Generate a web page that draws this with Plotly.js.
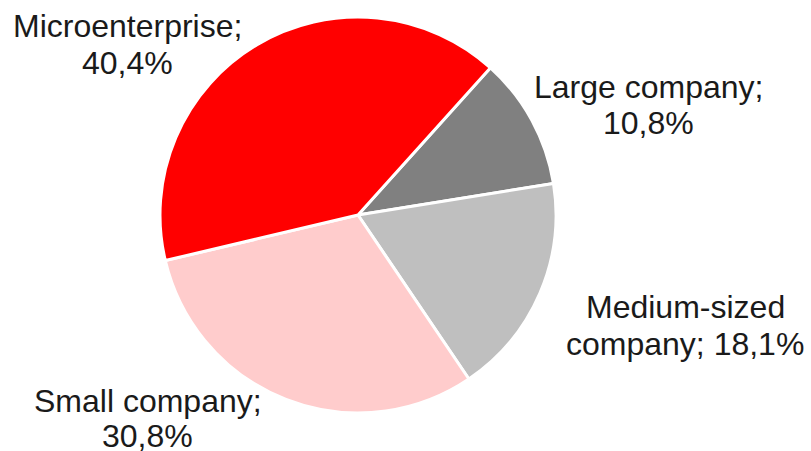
<!DOCTYPE html>
<html>
<head>
<meta charset="utf-8">
<script src="https://cdn.plot.ly/plotly-3.0.1.min.js"></script>
<style>html,body{margin:0;padding:0;background:#fff;}#chart{width:811px;height:451px;}</style>
</head>
<body>
<div id="chart"></div>
<script>
// Data
var categories = ["Large company", "Medium-sized company", "Small company", "Microenterprise"];
var values = [10.8, 18.1, 30.8, 40.4];
var valueLabels = ["10,8%", "18,1%", "30,8%", "40,4%"];
var colors = ["#808080", "#BFBFBF", "#FFCCCC", "#FF0000"];
// Label line splits (as in the reference)
var labelLine1 = ["Large company;", "Medium-sized", "Small company;", "Microenterprise;"];
var labelLine2 = ["10,8%", "company; 18,1%", "30,8%", "40,4%"];

var W = 811, H = 451;
// label centre positions in pixels (line1 y, line2 y)
var labelPos = [
  {x: 648, y1: 86, y2: 122},
  {x: 685, y1: 306, y2: 343},
  {x: 147.5, y1: 399.5, y2: 435},
  {x: 127, y1: 25, y2: 62}
];

var annotations = [];
for (var i = 0; i < categories.length; i++) {
  var p = labelPos[i];
  [[labelLine1[i], p.y1], [labelLine2[i], p.y2]].forEach(function (ln) {
    annotations.push({
      text: ln[0], xref: 'paper', yref: 'paper',
      x: p.x / W, y: 1 - (ln[1] + 1) / H,
      xanchor: 'center', yanchor: 'middle', showarrow: false,
      font: {family: 'Liberation Sans, Arial, sans-serif', size: 32, color: '#1a1a1a'}
    });
  });
}

var trace = {
  type: 'pie',
  labels: categories,
  values: values,
  sort: false,
  direction: 'clockwise',
  rotation: 42,
  textinfo: 'none',
  hoverinfo: 'label+percent',
  marker: {colors: colors, line: {color: '#ffffff', width: 3}},
  domain: {x: [160 / W, 556 / W], y: [(H - 413) / H, (H - 17) / H]}
};

var layout = {
  width: W, height: H,
  margin: {l: 0, r: 0, t: 0, b: 0},
  showlegend: false,
  paper_bgcolor: '#ffffff',
  annotations: annotations
};

Plotly.newPlot('chart', [trace], layout, {displayModeBar: false, staticPlot: true});
</script>
</body>
</html>
